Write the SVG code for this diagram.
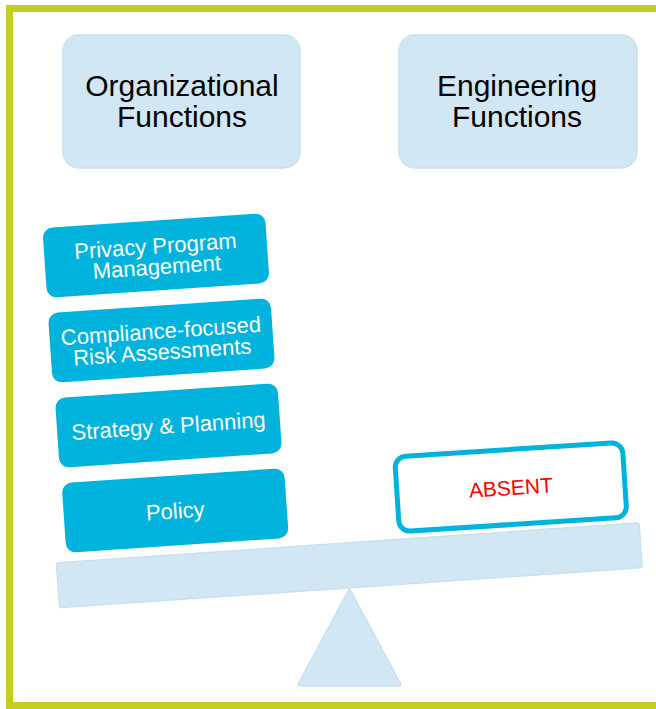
<svg xmlns="http://www.w3.org/2000/svg" width="656" height="709" viewBox="0 0 656 709">
<style>
  .frame{fill:none;stroke:#C3CD22;stroke-width:7}
  .light{fill:#D1E7F3;stroke:#C9E2F0;stroke-width:1.5}
  .blue{fill:#00B3DC}
  .absent{fill:#FFFFFF;stroke:#00B3DC;stroke-width:5}
  .hdr{font-family:"Liberation Sans",Arial,sans-serif;font-size:30px;fill:#000;text-anchor:middle}
  .lbl{font-family:"Liberation Sans",Arial,sans-serif;font-size:22px;fill:#FFFFFF;text-anchor:middle}
  .red{font-family:"Liberation Sans",Arial,sans-serif;font-size:21px;fill:#FF0000;text-anchor:middle}
</style>
<rect width="656" height="709" fill="#FFFFFF"/>
<rect class="frame" x="9.5" y="8.5" width="700" height="697"/>

<g id="organizational-functions">
  <rect class="light" x="63" y="35" width="237" height="133" rx="16"/>
  <text class="hdr" x="182" y="96">Organizational</text>
  <text class="hdr" x="182" y="127">Functions</text>
</g>
<g id="engineering-functions">
  <rect class="light" x="399" y="35" width="238" height="133" rx="16"/>
  <text class="hdr" x="517" y="96">Engineering</text>
  <text class="hdr" x="517" y="127">Functions</text>
</g>

<g id="beam">
  <g transform="translate(349.3,565.3) rotate(-3.93)">
    <rect class="light" x="-292" y="-22.5" width="584" height="45" rx="2"/>
  </g>
</g>
<g id="fulcrum">
  <path class="light" d="M349.4,588.3 L400.8,684 Q401.3,686 399,686 L300,686 Q297.7,686 298.2,684 Z" stroke-linejoin="round"/>
</g>

<g id="privacy-program-management" transform="translate(156,255.5) rotate(-3.9)">
  <rect class="blue" x="-111.5" y="-35" width="223" height="70" rx="10"/>
  <text class="lbl" x="0" y="-2">Privacy Program</text>
  <text class="lbl" x="0" y="19">Management</text>
</g>
<g id="compliance-risk-assessments" transform="translate(161.5,340.5) rotate(-3.9)">
  <rect class="blue" x="-111.5" y="-35" width="223" height="70" rx="10"/>
  <text class="lbl" x="0" y="-2">Compliance-focused</text>
  <text class="lbl" x="0" y="19">Risk Assessments</text>
</g>
<g id="strategy-planning" transform="translate(168.5,425.5) rotate(-3.9)">
  <rect class="blue" x="-111.5" y="-35" width="223" height="70" rx="10"/>
  <text class="lbl" x="0" y="8">Strategy &amp; Planning</text>
</g>
<g id="policy" transform="translate(175.2,510.5) rotate(-3.9)">
  <rect class="blue" x="-111.5" y="-35" width="223" height="70" rx="10"/>
  <text class="lbl" x="0" y="8">Policy</text>
</g>

<g id="absent" transform="translate(510.8,487) rotate(-3.7)">
  <rect class="absent" x="-114" y="-37.5" width="228" height="75" rx="11"/>
  <text class="red" x="0" y="8">ABSENT</text>
</g>

<g id="connectors"></g>
</svg>
